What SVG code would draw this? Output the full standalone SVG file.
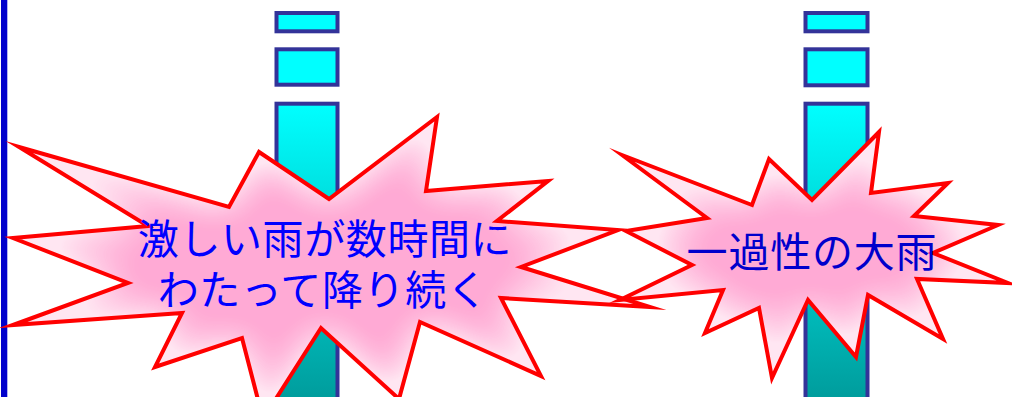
<svg xmlns="http://www.w3.org/2000/svg" width="1012" height="397" viewBox="0 0 1012 397">
  <style>
    .bar { stroke: #333399; stroke-width: 4; }
    .cap { fill: #00FFFF; }
    .burst-fill { fill: #FFE6F2; stroke: none; filter: url(#shade); }
    .burst-line { fill: none; stroke: #FF0000; stroke-width: 4; stroke-linejoin: miter; stroke-miterlimit: 20; }
    .label { font-family: "Noto Sans CJK JP", "Noto Sans", sans-serif; font-size: 41px; text-anchor: middle; }
  </style>
  <defs>
    <linearGradient id="shaft" x1="0" y1="104" x2="0" y2="400" gradientUnits="userSpaceOnUse">
      <stop offset="0" stop-color="#00FFFF"/>
      <stop offset="1" stop-color="#009C9C"/>
    </linearGradient>
    <filter id="shade" x="-5%" y="-5%" width="110%" height="110%" color-interpolation-filters="sRGB">
      <feGaussianBlur in="SourceAlpha" stdDeviation="20" result="b"/>
      <feComponentTransfer in="b" result="b2">
        <feFuncA type="linear" slope="1.9" intercept="-0.8"/>
      </feComponentTransfer>
      <feFlood flood-color="#FF96CA" flood-opacity="0.75" result="f"/>
      <feComposite in="f" in2="b2" operator="in" result="dark"/>
      <feComposite in="dark" in2="SourceAlpha" operator="in" result="darkclip"/>
      <feMerge>
        <feMergeNode in="SourceGraphic"/>
        <feMergeNode in="darkclip"/>
      </feMerge>
    </filter>
    <polygon id="starL" points="19,147 229,207 259,152 329,199 437,117 426,191 548,181 497,221 618,230 521,267 650,307 501,298 541,376 420,322 399,399 321,328 263,419 242,338 155,367 182,313 13,325 128,283 13,238 148,226"/>
    <polygon id="starR" points="622,155 752,205 769,159 812,200 879,132 871,193 948,183 914,216 998,225 933,253 1008,283 917,279 943,339 868,295 856,357 808,300 772,378 759,308 705,333 723,290 620,300 692,265 626,231 707,218"/>
  </defs>

  <rect id="edge-line" x="1" y="0" width="6.3" height="397" fill="#0000CC"/>

  <g id="column-left">
    <rect class="bar cap" x="276.5" y="13" width="61" height="18.3"/>
    <rect class="bar cap" x="276.5" y="49.3" width="61" height="35.4"/>
    <rect class="bar" x="276.5" y="103.7" width="61" height="310" fill="url(#shaft)"/>
  </g>

  <g id="column-right">
    <rect class="bar cap" x="805.5" y="13" width="62" height="18.3"/>
    <rect class="bar cap" x="805.5" y="49.3" width="62" height="36"/>
    <rect class="bar" x="805.5" y="103.7" width="62" height="310" fill="url(#shaft)"/>
  </g>

  <g id="burst-left">
    <use href="#starL" class="burst-fill"/>
    <use href="#starL" class="burst-line"/>
    <text class="label" fill="#0000FF" letter-spacing="0.6"><tspan x="325" y="254">激しい雨が数時間に</tspan><tspan x="323" y="305">わたって降り続く</tspan></text>
  </g>

  <g id="burst-right">
    <use href="#starR" class="burst-fill"/>
    <use href="#starR" class="burst-line"/>
    <text class="label" fill="#0000CC" letter-spacing="0.8" x="812" y="267">一過性の大雨</text>
  </g>
</svg>
